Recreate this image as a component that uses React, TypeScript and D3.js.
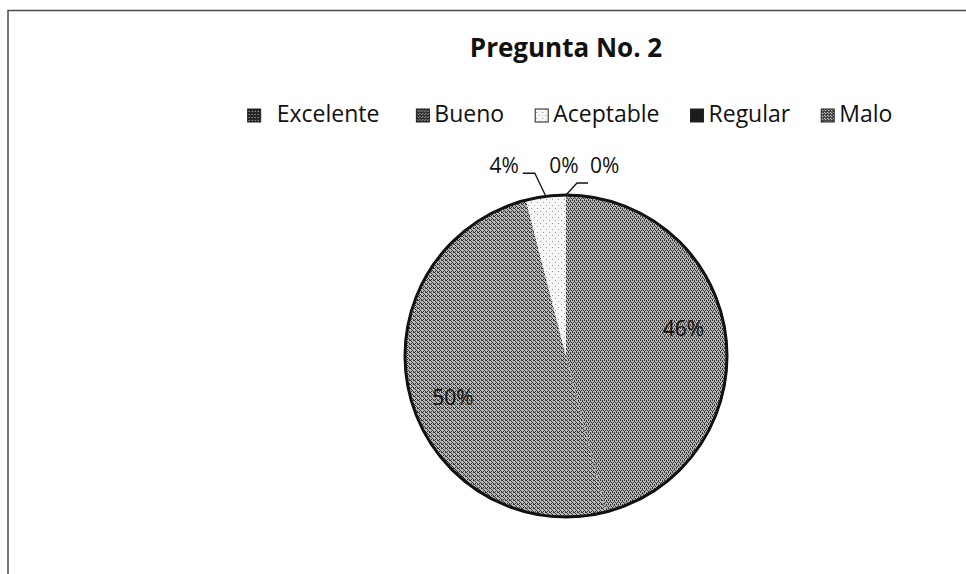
import React, { useRef, useEffect } from 'react'
import * as d3 from 'd3'

// datos de la pregunta
const categories = ['Excelente', 'Bueno', 'Aceptable', 'Regular', 'Malo']
const values = [46, 50, 4, 0, 0]
const chartTitle = 'Pregunta No. 2'

const W = 966
const H = 574
const FONT = '"Open Sans", "Liberation Sans", sans-serif'

// relleno de cada porción (patrones definidos abajo)
const sliceFills = ['url(#patExc)', 'url(#patBue)', 'url(#patAce)', 'url(#patReg)', 'url(#patMal)']
const legendFills = ['url(#legExc)', 'url(#legBue)', 'url(#patAce)', '#1c1c1c', 'url(#legMal)']

const App: React.FC = () => {
  const svgRef = useRef<SVGSVGElement>(null)

  useEffect(() => {
    if (!svgRef.current) return
    const svg = d3.select(svgRef.current)
    svg.selectAll('*').remove()

    const cx = 566
    const cy = 356
    const r = 161

    // patrones tipo escaneo
    const defs = svg.append('defs')
    const addPattern = (id: string, size: number, bg: string, dots: [number, number][], dot: string) => {
      const p = defs.append('pattern')
        .attr('id', id)
        .attr('patternUnits', 'userSpaceOnUse')
        .attr('width', size)
        .attr('height', size)
      p.append('rect').attr('width', size).attr('height', size).attr('fill', bg)
      dots.forEach(([x, y]) => {
        p.append('rect').attr('x', x).attr('y', y).attr('width', 1).attr('height', 1).attr('fill', dot)
      })
    }
    addPattern('patExc', 4, '#b8b8b8', [[0, 0], [2, 0], [1, 2], [3, 2], [2, 3], [0, 1]], '#363636')
    addPattern('patBue', 4, '#bababa', [[0, 0], [1, 1], [2, 2], [3, 3], [3, 0], [1, 3]], '#333')
    addPattern('patAce', 6, '#f6f6f6', [[1, 2], [4, 5]], '#9a9a9a')
    addPattern('patReg', 4, '#3a3a3a', [[1, 1]], '#888')
    addPattern('patMal', 4, '#777', [[1, 1], [3, 3]], '#ddd')
    addPattern('legExc', 3, '#262626', [[1, 1]], '#bbb')
    addPattern('legBue', 3, '#303030', [[0, 0], [2, 1]], '#aaa')
    addPattern('legMal', 3, '#444', [[1, 0], [0, 2]], '#e0e0e0')

    // marco (solo se ven borde superior e izquierdo)
    svg.append('path')
      .attr('d', `M8,${H} L8,10.5 L${W},10.5`)
      .attr('fill', 'none')
      .attr('stroke', '#4a4a4a')
      .attr('stroke-width', 1.5)

    // título
    svg.append('text')
      .attr('x', cx)
      .attr('y', 57)
      .attr('text-anchor', 'middle')
      .attr('font-family', FONT)
      .attr('font-weight', 700)
      .attr('font-size', 26)
      .attr('fill', '#111')
      .text(chartTitle)

    // leyenda centrada
    const legend = svg.append('g')
    const box = 13
    const gap = 5
    const itemGap = 31
    let xPos = 0
    categories.forEach((c, i) => {
      const g = legend.append('g').attr('transform', `translate(${xPos},0)`)
      g.append('rect')
        .attr('x', 0)
        .attr('y', -13)
        .attr('width', box)
        .attr('height', box)
        .attr('fill', legendFills[i])
        .attr('stroke', '#222')
        .attr('stroke-width', 1)
      const t = g.append('text')
        .attr('x', box + gap + (i === 0 ? 11 : 0))
        .attr('y', 0)
        .attr('font-family', FONT)
        .attr('font-size', 23)
        .attr('fill', '#111')
        .text(c)
      const w = (t.node() as SVGTextElement).getComputedTextLength()
      xPos += box + gap + w + itemGap + (i === 0 ? 17 : 0)
    })
    const legendW = xPos - itemGap
    legend.attr('transform', `translate(${570 - legendW / 2},122)`)

    // pastel
    const pie = d3.pie<number>().sort(null).value(d => d)
    const arcs = pie(values)
    const arc = d3.arc<d3.PieArcDatum<number>>().innerRadius(0).outerRadius(r)
    const total = d3.sum(values)

    const pieG = svg.append('g').attr('transform', `translate(${cx},${cy})`)
    pieG.selectAll('path.slice')
      .data(arcs)
      .join('path')
      .attr('class', 'slice')
      .attr('d', arc)
      .attr('fill', (_, i) => sliceFills[i])

    pieG.append('circle')
      .attr('r', r)
      .attr('fill', 'none')
      .attr('stroke', '#111')
      .attr('stroke-width', 3)

    const pct = (v: number) => `${Math.round((v / total) * 100)}%`
    const midA = (a: d3.PieArcDatum<number>) => (a.startAngle + a.endAngle) / 2
    const onCircle = (a: number, rad: number): [number, number] => [Math.sin(a) * rad, -Math.cos(a) * rad]

    // etiquetas internas
    const labelShift = (-6 * Math.PI) / 180
    arcs.forEach((a, i) => {
      if (values[i] / total < 0.1) return
      const [lx, ly] = onCircle(midA(a) + labelShift, r * 0.75)
      pieG.append('text')
        .attr('x', lx)
        .attr('y', ly)
        .attr('dy', '0.35em')
        .attr('text-anchor', 'middle')
        .attr('font-family', FONT)
        .attr('font-size', 21)
        .attr('fill', '#111')
        .text(pct(values[i]))
    })

    // etiquetas externas con guía
    const outside: { [k: number]: { elbow: [number, number]; run: number; anchor: string; line: boolean } } = {
      2: { elbow: [-11, -23], run: -12, anchor: 'end', line: true },
      3: { elbow: [0, -22], run: 0, anchor: 'middle', line: false },
      4: { elbow: [11, -12], run: 11, anchor: 'start', line: true }
    }
    arcs.forEach((a, i) => {
      const o = outside[i]
      if (!o) return
      const [px, py] = onCircle(midA(a), r)
      const ex = px + o.elbow[0]
      const ey = py + o.elbow[1]
      const lx = ex + o.run
      if (o.line) {
        pieG.append('path')
          .attr('d', `M${px},${py} L${ex},${ey} L${lx},${ey}`)
          .attr('fill', 'none')
          .attr('stroke', '#111')
          .attr('stroke-width', 1.3)
      }
      const tx = o.anchor === 'end' ? lx - 4 : o.anchor === 'start' ? lx + 2 : px - 2
      const ty = i === 4 ? ey - 10 : ey
      pieG.append('text')
        .attr('x', tx)
        .attr('y', o.line ? ty : py - 22)
        .attr('text-anchor', o.anchor)
        .attr('font-family', FONT)
        .attr('font-size', 21)
        .attr('fill', '#111')
        .text(pct(values[i]))
    })
  }, [])

  return (
    <svg
      ref={svgRef}
      width={W}
      height={H}
      style={{ position: 'absolute', left: 0, top: 0, background: '#fff' }}
    />
  )
}

export default App
